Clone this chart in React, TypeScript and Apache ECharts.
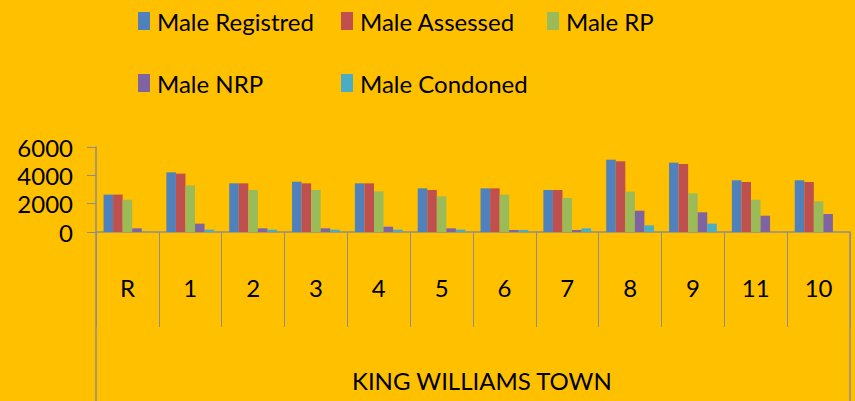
import React, { useEffect, useRef } from "react";
import * as echarts from "echarts";

const categories = ["R", "1", "2", "3", "4", "5", "6", "7", "8", "9", "11", "10"];
const maleRegistred = [2640, 4210, 3435, 3550, 3435, 3080, 3080, 2965, 5105, 4895, 3650, 3650];
const maleAssessed = [2640, 4120, 3435, 3435, 3435, 2965, 3080, 2965, 4990, 4800, 3530, 3530];
const maleRP = [2280, 3290, 2965, 2965, 2870, 2520, 2635, 2400, 2850, 2730, 2280, 2165];
const maleNRP = [260, 590, 260, 260, 375, 260, 140, 140, 1505, 1390, 1150, 1270];
const maleCondoned = [20, 165, 165, 165, 165, 165, 140, 260, 470, 590, 0, 0];
const yTicks = [0, 2000, 4000, 6000];
const groupLabel = "KING WILLIAMS TOWN";

const seriesDefs = [
  { name: "Male Registred", data: maleRegistred, color: "#4F81BD" },
  { name: "Male Assessed", data: maleAssessed, color: "#C0504D" },
  { name: "Male RP", data: maleRP, color: "#9BBB59" },
  { name: "Male NRP", data: maleNRP, color: "#8064A2" },
  { name: "Male Condoned", data: maleCondoned, color: "#4BACC6" },
];

const legendPos = [
  { left: 138, top: 9 },
  { left: 341, top: 9 },
  { left: 547, top: 9 },
  { left: 138, top: 71 },
  { left: 341, top: 71 },
];

const FONT = "Lato";

export default function App() {
  const ref = useRef<HTMLDivElement>(null);
  useEffect(() => {
    document.body.style.margin = "0";
    const chart = echarts.init(ref.current!, undefined, { renderer: "svg" });
    const axisColor = "#8E8E8E";
    chart.setOption({
      animation: false,
      backgroundColor: "#FFC000",
      textStyle: { fontFamily: FONT },
      legend: seriesDefs.map((s, i) => ({
        data: [s.name],
        left: legendPos[i].left,
        top: legendPos[i].top,
        padding: 0,
        itemWidth: 12,
        itemHeight: 18,
        icon: "rect",
        textStyle: { fontSize: 24, color: "#000", fontFamily: FONT, padding: [0, 0, 0, 2] },
      })),
      grid: { left: 96, right: 5, top: 147, bottom: 169, containLabel: false },
      xAxis: {
        type: "category",
        data: categories,
        axisLine: { lineStyle: { color: axisColor, width: 1.5 } },
        axisTick: { show: true, length: 95, lineStyle: { color: axisColor, width: 1 } },
        axisLabel: { fontSize: 24, color: "#000", fontFamily: FONT, margin: 43 },
      },
      yAxis: {
        type: "value",
        min: 0,
        max: 6000,
        interval: 2000,
        splitLine: { show: false },
        axisLine: { show: true, lineStyle: { color: axisColor, width: 1.5 } },
        axisTick: { show: true, length: 9, lineStyle: { color: axisColor } },
        axisLabel: { fontSize: 24, color: "#000", fontFamily: FONT, margin: 23,
          formatter: (v: number) => (yTicks.includes(v) ? String(v) : "") },
      },
      series: seriesDefs.map((s) => ({
        name: s.name,
        type: "bar",
        data: s.data,
        itemStyle: { color: s.color },
        barGap: "0%",
        barCategoryGap: "24%",
      })),
      graphic: [
        { type: "line", shape: { x1: 96, y1: 232, x2: 96, y2: 401 }, style: { stroke: axisColor, lineWidth: 1.5 } },
        { type: "line", shape: { x1: 850, y1: 232, x2: 850, y2: 401 }, style: { stroke: axisColor, lineWidth: 1.5 } },
        { type: "text", left: 352, top: 368, style: { text: groupLabel, fontSize: 24, fontFamily: FONT, fill: "#000" } },
      ],
    });
    return () => chart.dispose();
  }, []);
  return <div ref={ref} style={{ width: 855, height: 401 }} />;
}
